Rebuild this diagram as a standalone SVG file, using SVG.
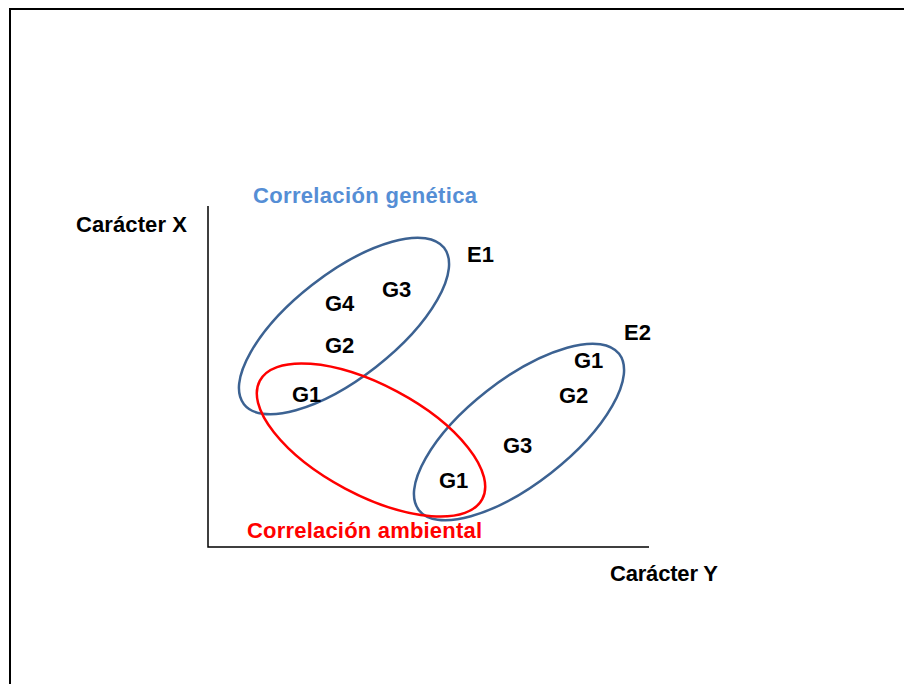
<svg xmlns="http://www.w3.org/2000/svg" width="904" height="684" viewBox="0 0 904 684">
  <style>
    text { font-family: "Liberation Sans", Arial, sans-serif; font-weight: bold; font-size: 22px; fill: #000; }
    .gen { fill: #558ED5; }
    .amb { fill: #FF0000; }
    .env { fill: none; stroke: #3C6292; stroke-width: 2.5; }
    .envr { fill: none; stroke: #FF0000; stroke-width: 2.5; }
    .axis { stroke: #000; stroke-width: 1.5; fill: none; }
  </style>
  <rect x="0" y="0" width="904" height="684" fill="#fff"/>
  <!-- frame -->
  <rect x="10" y="9" width="910" height="700" fill="none" stroke="#000" stroke-width="2"/>

  <!-- axes -->
  <g id="axes">
    <path class="axis" d="M208 206 V547 H649"/>
    <text x="76" y="232" textLength="111" lengthAdjust="spacing">Carácter X</text>
    <text x="610" y="581" textLength="108" lengthAdjust="spacing">Carácter Y</text>
  </g>

  <!-- groupings -->
  <g id="connectors">
    <ellipse id="E1-ring" class="env" cx="344" cy="326" rx="127" ry="52" transform="rotate(-38 344 326)"/>
    <ellipse id="E2-ring" class="env" cx="519" cy="432" rx="127" ry="52" transform="rotate(-38 519 432)"/>
    <ellipse id="G1-ring" class="envr" cx="371" cy="440" rx="126" ry="55" transform="rotate(28 371 440)"/>
  </g>

  <g id="label-genetica">
    <text class="gen" x="253" y="203" textLength="224" lengthAdjust="spacing">Correlación genética</text>
  </g>
  <g id="label-ambiental">
    <text class="amb" x="247" y="538" textLength="235" lengthAdjust="spacing">Correlación ambiental</text>
  </g>

  <g id="E1">
    <text x="467" y="262">E1</text>
    <text x="325" y="311">G4</text>
    <text x="382" y="297">G3</text>
    <text x="325" y="353">G2</text>
    <text x="292" y="402">G1</text>
  </g>
  <g id="E2">
    <text x="624" y="340">E2</text>
    <text x="574" y="368">G1</text>
    <text x="559" y="403">G2</text>
    <text x="503" y="453">G3</text>
    <text x="439" y="488">G1</text>
  </g>
</svg>
